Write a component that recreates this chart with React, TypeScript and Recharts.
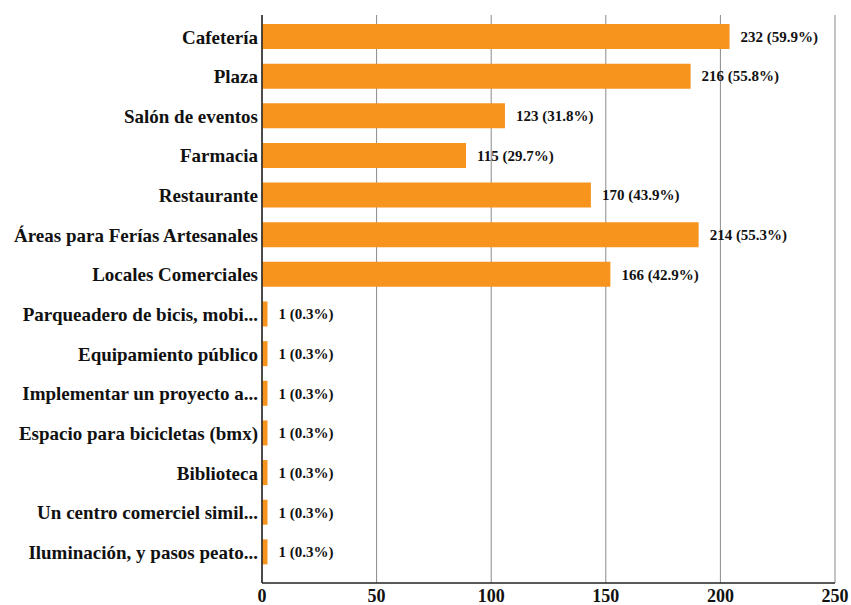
import React from "react";
import { BarChart, Bar, XAxis, YAxis, CartesianGrid, LabelList } from "recharts";

const categories = [
  "Cafetería",
  "Plaza",
  "Salón de eventos",
  "Farmacia",
  "Restaurante",
  "Áreas para Ferías Artesanales",
  "Locales Comerciales",
  "Parqueadero de bicis, mobi...",
  "Equipamiento público",
  "Implementar un proyecto a...",
  "Espacio para bicicletas (bmx)",
  "Biblioteca",
  "Un centro comerciel simil...",
  "Iluminación, y pasos peato...",
];

// bar lengths as drawn in the picture
const barValues = [204, 187, 106, 89, 143.5, 190.5, 152, 2.4, 2.4, 2.4, 2.4, 2.4, 2.4, 2.4];

// value label texts
const counts = [232, 216, 123, 115, 170, 214, 166, 1, 1, 1, 1, 1, 1, 1];
const percents = ["59.9%", "55.8%", "31.8%", "29.7%", "43.9%", "55.3%", "42.9%", "0.3%", "0.3%", "0.3%", "0.3%", "0.3%", "0.3%", "0.3%"];

const xTicks = [0, 50, 100, 150, 200, 250];

const data = categories.map((name, i) => ({
  name,
  value: barValues[i],
  label: `${counts[i]} (${percents[i]})`,
}));

const FONT = "Liberation Serif, Times New Roman, DejaVu Serif, serif";

export default function App() {
  return (
    <div style={{ position: "absolute", left: 0, top: 0, background: "#fff", fontFamily: FONT }}>
      <BarChart
        width={851}
        height={605}
        data={data}
        layout="vertical"
        margin={{ top: 15, right: 16, bottom: 0, left: 0 }}
        style={{ fontFamily: FONT }}
      >
        <CartesianGrid horizontal={false} vertical={true} stroke="#8a8a8a" strokeWidth={1} />
        <XAxis
          type="number"
          domain={[0, 250]}
          ticks={xTicks}
          interval={0}
          axisLine={{ stroke: "#222", strokeWidth: 1.5 }}
          tickLine={false}
          tickSize={4}
          height={22}
          tick={{ fill: "#111", fontSize: 18, fontWeight: "bold", fontFamily: FONT }}
        />
        <XAxis
          xAxisId="top"
          orientation="top"
          type="number"
          domain={[0, 250]}
          ticks={xTicks}
          height={0}
          tick={false}
          tickLine={false}
          axisLine={{ stroke: "#777", strokeWidth: 1.5 }}
        />
        <YAxis
          type="category"
          dataKey="name"
          width={262}
          interval={0}
          tickLine={false}
          tickSize={1}
          tickMargin={3}
          padding={{ top: 2, bottom: 11 }}
          axisLine={{ stroke: "#222", strokeWidth: 1.5 }}
          tick={{ fill: "#111", fontSize: 19, fontWeight: "bold", fontFamily: FONT }}
        />
        <Bar dataKey="value" fill="#f7941d" barSize={25} isAnimationActive={false}>
          <LabelList
            dataKey="label"
            position="right"
            offset={11}
            fontFamily={FONT}
            style={{ fill: "#111", fontSize: 15, fontWeight: "bold", fontFamily: FONT }}
          />
        </Bar>
      </BarChart>
    </div>
  );
}
